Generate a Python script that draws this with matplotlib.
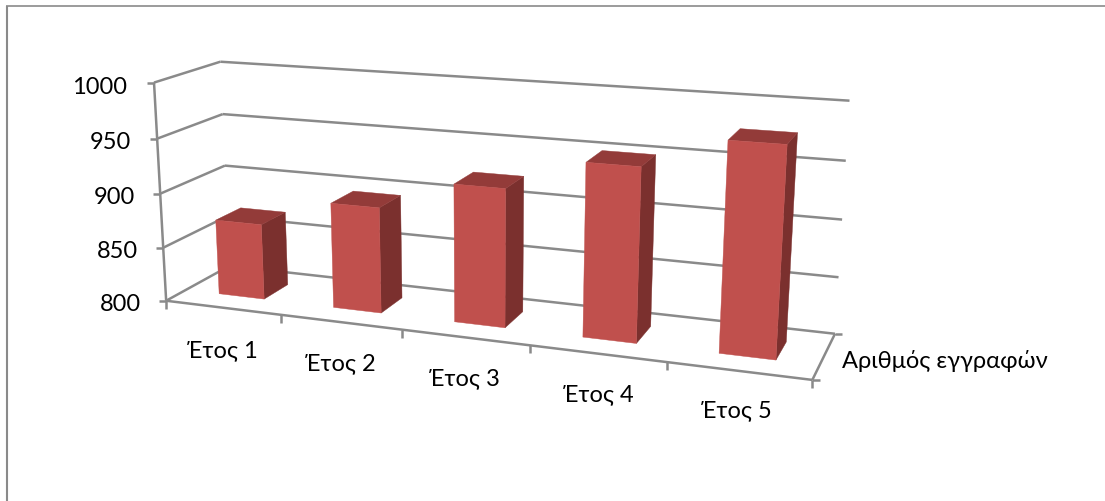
import numpy as np
import matplotlib
matplotlib.use("Agg")
import matplotlib.pyplot as plt
from matplotlib.patches import Polygon

# Chart data
categories = ["Έτος 1", "Έτος 2", "Έτος 3", "Έτος 4", "Έτος 5"]
series_name = "Αριθμός εγγραφών"
registrations = [870, 896, 923, 951, 978]
value_ticks = [800, 850, 900, 950, 1000]

# Box of the 3D plot: categories along u, one series along w, values along v
V_MIN, V_MAX = 800, 1000
N_CAT = len(categories)
BAR_GAP = 0.3

# Camera calibration: box corners (u, w, v) and where they land on the canvas
box_points = [
    (0, 0, 800), (1, 0, 800), (2, 0, 800), (3, 0, 800), (4, 0, 800), (5, 0, 800),
    (5, 1, 800), (0, 1, 800), (0, 0, 900), (0, 1, 900), (5, 1, 900),
    (0, 0, 1000), (0, 1, 1000), (5, 1, 1000),
]
canvas_points = [
    (166.0, 301.7), (281.0, 315.7), (401.7, 331.0), (530.0, 347.0), (666.7, 363.0), (812.7, 380.0),
    (835.0, 335.0), (229.0, 266.5), (161.0, 195.0), (225.0, 166.7), (842.3, 220.7),
    (153.3, 83.3), (220.7, 62.7), (849.3, 101.7),
]


def fit_camera(points3d, points2d):
    rows, rhs = [], []
    for (u, w, v), (x, y) in zip(points3d, points2d):
        z = (v - V_MIN) / (V_MAX - V_MIN)
        rows.append([u, w, z, 1, 0, 0, 0, 0, -x * u, -x * w, -x * z])
        rhs.append(x)
        rows.append([0, 0, 0, 0, u, w, z, 1, -y * u, -y * w, -y * z])
        rhs.append(y)
    sol = np.linalg.lstsq(np.array(rows), np.array(rhs), rcond=None)[0]
    return np.append(sol, 1.0).reshape(3, 4)


CAMERA = fit_camera(box_points, canvas_points)


def project(u, w, v):
    z = (v - V_MIN) / (V_MAX - V_MIN)
    px = CAMERA @ np.array([u, w, z, 1.0])
    return px[0] / px[2], px[1] / px[2]


plt.rcParams["font.family"] = ["Lato", "Noto Sans", "DejaVu Sans"]

WIDTH, HEIGHT = 1105, 502
fig = plt.figure(figsize=(WIDTH / 100, HEIGHT / 100), dpi=100, facecolor="white")
ax = fig.add_axes([0, 0, 1, 1])
ax.set_xlim(0, WIDTH)
ax.set_ylim(HEIGHT, 0)
ax.axis("off")

AXIS_COLOR = "#8a8a8a"
TEXT_COLOR = "#000000"
FRONT = "#c0504d"
TOP = "#933b39"
SIDE = "#7b302e"
LW = 1.8


def seg(a, b, lw=LW, z=1):
    ax.plot([a[0], b[0]], [a[1], b[1]], color=AXIS_COLOR, lw=lw, zorder=z,
            solid_capstyle="butt")


# Outer chart frame, open on the right and at the bottom
ax.plot([7, 7], [HEIGHT, 6.5], color="#8a8a8a", lw=1.5, solid_capstyle="butt", zorder=1)
ax.plot([6, WIDTH], [6.5, 6.5], color="#8a8a8a", lw=1.2, solid_capstyle="butt", zorder=1)

# Gridlines on the side and back walls, with ticks on the value axis
for v in value_ticks:
    front = project(0, 0, v)
    corner = project(0, 1, v)
    end = project(N_CAT, 1, v)
    seg(front, corner)
    seg(corner, end)
    seg((front[0] - 7, front[1]), front)

# Value axis, floor edges and their ticks
seg(project(0, 0, V_MIN), project(0, 0, V_MAX))
seg(project(0, 0, V_MIN), project(N_CAT, 0, V_MIN))
seg(project(N_CAT, 0, V_MIN), project(N_CAT, 1, V_MIN))
for i in range(N_CAT + 1):
    x, y = project(i, 0, V_MIN)
    seg((x, y), (x, y + 8))
right_front = project(N_CAT, 0, V_MIN)
right_back = project(N_CAT, 1, V_MIN)
seg(right_front, (right_front[0] + 8, right_front[1]))
seg(right_back, (right_back[0] + 7, right_back[1]))

# Bars: side and top faces first, the front face on top of them
for i, value in enumerate(registrations):
    u0, u1 = i + BAR_GAP, i + 1 - BAR_GAP
    w0, w1 = BAR_GAP, 1 - BAR_GAP
    faces = [
        (SIDE, [(u1, w0, V_MIN), (u1, w1, V_MIN), (u1, w1, value), (u1, w0, value)]),
        (TOP, [(u0, w0, value), (u1, w0, value), (u1, w1, value), (u0, w1, value)]),
        (FRONT, [(u0, w0, V_MIN), (u1, w0, V_MIN), (u1, w0, value), (u0, w0, value)]),
    ]
    for color, corners in faces:
        ax.add_patch(Polygon([project(*c) for c in corners], closed=True, facecolor=color,
                             edgecolor=color, lw=0.3, zorder=3))

FONT_SIZE = 17

# Value axis labels
value_label_right = [127.5, 131.0, 134.7, 137.7, 141.0]
value_label_y = [85, 141, 196, 250, 303]
for v, xr, y in zip(reversed(value_ticks), value_label_right, value_label_y):
    ax.text(xr, y, str(v), ha="right", va="center_baseline", fontsize=FONT_SIZE, color=TEXT_COLOR)

# Category labels
cat_label_x = [187, 305, 429, 563, 701]
cat_label_y = [349, 362, 377, 393, 409]
for name, x, y in zip(categories, cat_label_x, cat_label_y):
    ax.text(x, y, name, ha="left", va="center_baseline", fontsize=FONT_SIZE, color=TEXT_COLOR)

# Series name beside the depth axis
ax.text(842, 359, series_name, ha="left", va="center_baseline", fontsize=FONT_SIZE, color=TEXT_COLOR)

fig.savefig("out.png", dpi=100, facecolor="white")
